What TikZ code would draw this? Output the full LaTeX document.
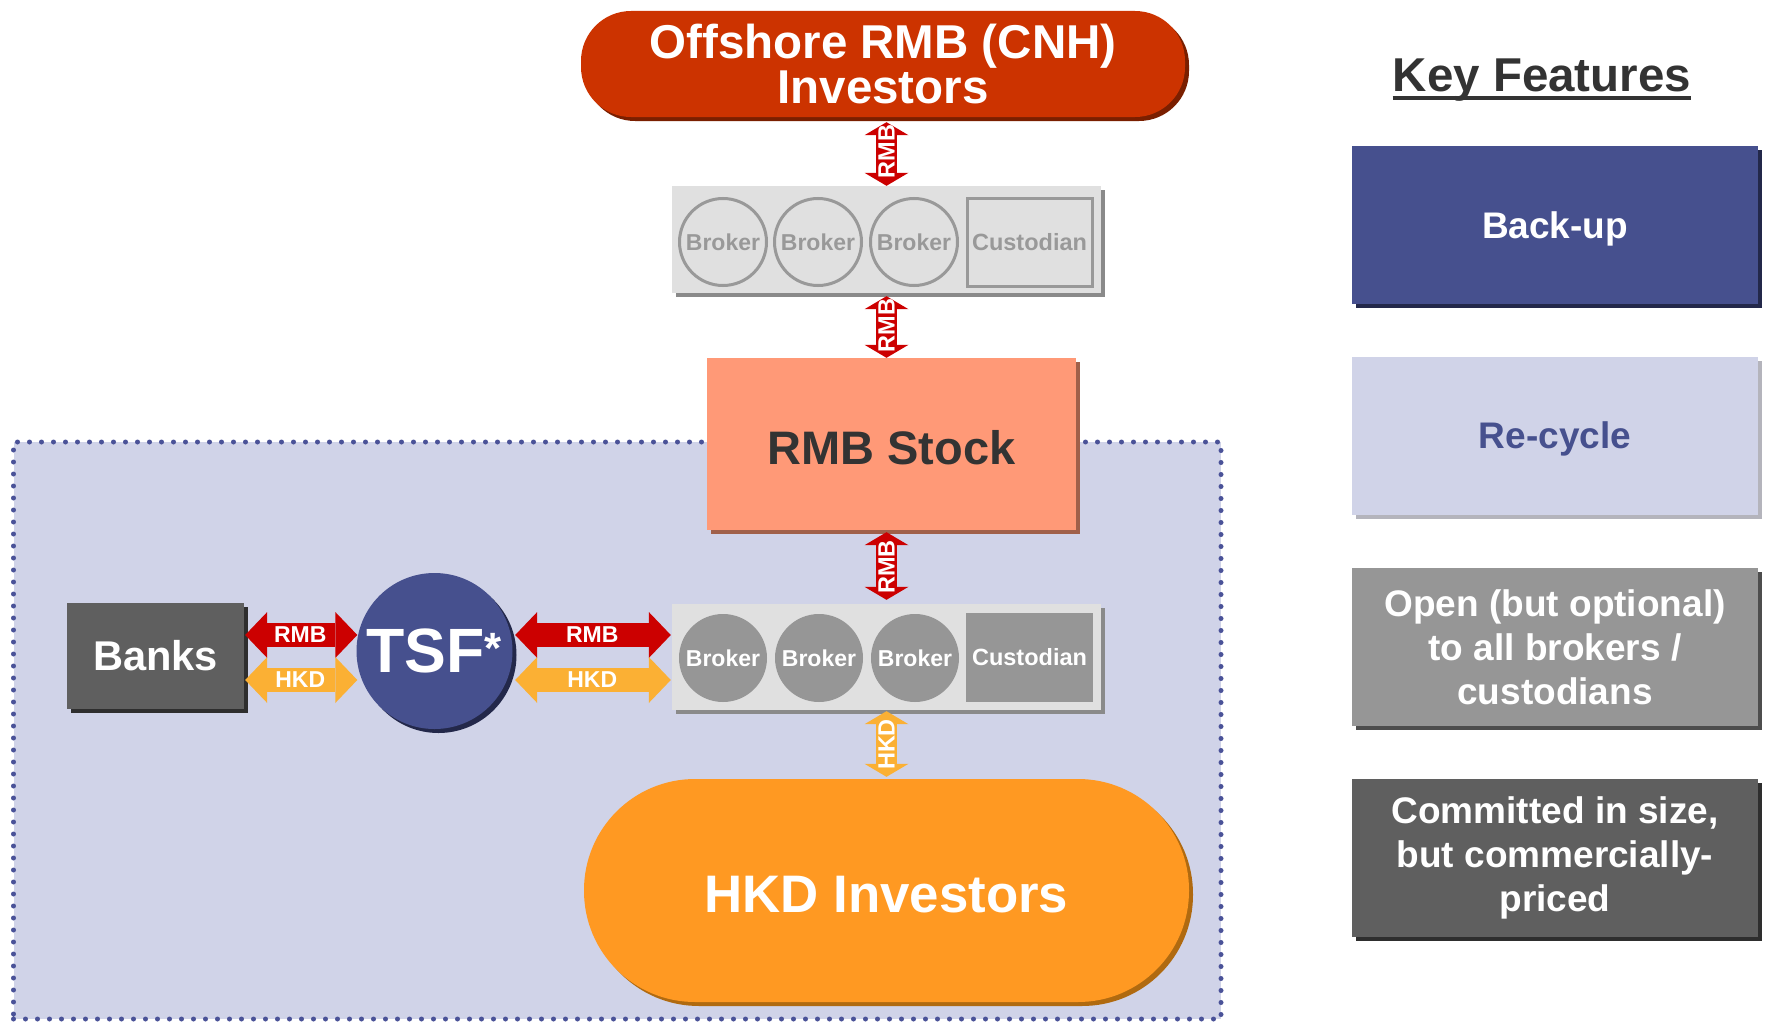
\documentclass[tikz,border=0pt]{standalone}
\usepackage{fontspec}
\setmainfont{Liberation Sans}
\usetikzlibrary{arrows.meta,shadows,calc}
\definecolor{titlered}{HTML}{CC3300}
\definecolor{titleshd}{HTML}{7A1F00}
\definecolor{salmon}{HTML}{FF9977}
\definecolor{salmonshd}{HTML}{A0604A}
\definecolor{hkdorange}{HTML}{FF9922}
\definecolor{hkdshd}{HTML}{B06A10}
\definecolor{zonefill}{HTML}{D0D3E8}
\definecolor{zonedot}{HTML}{4A5298}
\definecolor{navy}{HTML}{46508E}
\definecolor{navyshd}{HTML}{23284A}
\definecolor{boxgray}{HTML}{E0E0E0}
\definecolor{boxgrayshd}{HTML}{8A8A8A}
\definecolor{outgray}{HTML}{999999}
\definecolor{midgray}{HTML}{969696}
\definecolor{midgrayshd}{HTML}{4D4D4D}
\definecolor{darkgray}{HTML}{5F5F5F}
\definecolor{darkgrayshd}{HTML}{2E2E2E}
\definecolor{rmbred}{HTML}{CC0000}
\definecolor{hkdyellow}{HTML}{FBB034}
\definecolor{textdark}{HTML}{333333}
\definecolor{recycleshd}{HTML}{B4B4BC}
\newcommand\fsz[2]{\fontsize{#1pt}{#2pt}\selectfont\bfseries}
\begin{document}
\begin{tikzpicture}[x=1pt,y=-1pt,
  sh/.style={drop shadow={shadow xshift=4pt,shadow yshift=-4pt,opacity=1,fill=#1}},
  box/.style={rectangle,inner sep=0pt,align=center},
  brokerA/.style={circle,inner sep=0pt,minimum size=87pt,draw=outgray,line width=3pt,fill=boxgray,text=outgray,font=\fsz{23}{26}},
  brokerB/.style={circle,inner sep=0pt,minimum size=88pt,fill=midgray,text=white,font=\fsz{23}{26}},
  keybox/.style={box,minimum width=406pt,minimum height=158pt,font=\fsz{37}{44}},
  varrow/.style={draw=#1,line width=21pt,arrows={Triangle[width=44pt,length=13pt,line width=0pt]-Triangle[width=44pt,length=13pt,line width=0pt]}},
  harrow/.style={draw=#1,line width=24pt,arrows={Triangle[width=46pt,length=22pt,line width=0pt]-Triangle[width=46pt,length=22pt,line width=0pt]}},
  arrlab/.style={text=white,font=\fsz{23}{26},inner sep=0pt},
  varrlab/.style={text=white,font=\fsz{23.5}{26},inner sep=0pt,rotate=90}
]
\useasboundingbox (0,0) rectangle (1765,1025);

% shaded zone
\node[box,fill=zonefill,draw=zonedot,line width=5pt,dash pattern=on 0pt off 12pt,line cap=round,
      minimum width=1207.5pt,minimum height=577pt] (zone) at (617.25,730.5) {};

% top investors
\node[box,sh=titleshd,fill=titlered,rounded corners=50pt,minimum width=604pt,minimum height=106pt,
      text=white,font=\fsz{47.5}{45}] (cnh) at (883,64) {Offshore RMB (CNH)\\Investors};

% upper broker strip
\node[box,sh=boxgrayshd,fill=boxgray,minimum width=429pt,minimum height=107pt] (stripA) at (886.5,239.5) {};
\node[brokerA] (a1) at (723,242) {Broker};
\node[brokerA] (a2) at (818,242) {Broker};
\node[brokerA] (a3) at (914,242) {Broker};
\node[box,draw=outgray,line width=3pt,minimum width=125pt,minimum height=88pt,text=outgray,font=\fsz{23.5}{26}] (a4) at (1029.5,242) {Custodian};

% RMB stock
\node[box,sh=salmonshd,fill=salmon,minimum width=369pt,minimum height=172pt,text=textdark,font=\fsz{47}{50},text height=40pt,text depth=0pt] (stock) at (891.5,444) {RMB Stock};

% lower broker strip
\node[box,sh=boxgrayshd,fill=boxgray,minimum width=429pt,minimum height=106pt] (stripB) at (886.5,657) {};
\node[brokerB] (b1) at (723,658) {Broker};
\node[brokerB] (b2) at (819,658) {Broker};
\node[brokerB] (b3) at (915,658) {Broker};
\node[box,fill=midgray,minimum width=127pt,minimum height=89pt,text=white,font=\fsz{23.5}{26}] (b4) at (1029.5,657.5) {Custodian};

% HKD investors
\node[box,sh=hkdshd,fill=hkdorange,rounded corners=111pt,minimum width=605pt,minimum height=223pt,
      text=white,font=\fsz{52.8}{56},text height=44pt,text depth=0pt] (hkd) at (886.5,890.5) {HKD Investors};

% banks and TSF
\node[box,sh=darkgrayshd,fill=darkgray,minimum width=177pt,minimum height=106pt,text=white,font=\fsz{41.6}{44}] (banks) at (155.5,656) {Banks};
\node[circle,sh=navyshd,fill=navy,inner sep=0pt,minimum size=156pt,text=white,font=\fsz{62.6}{64}] (tsf) at (434.5,651) {TSF\textsuperscript{*}};

% rows for horizontal arrows
\coordinate (rowR) at (0,635);
\coordinate (rowH) at (0,680);

% vertical arrows
\draw[varrow=rmbred,shorten <=5pt] (stripA.north |- cnh.south) -- node[varrlab]{RMB} (stripA.north);
\draw[varrow=rmbred,shorten <=3pt] (stripA.south) -- node[varrlab]{RMB} (stripA.south |- stock.north);
\draw[varrow=rmbred,shorten <=2pt,shorten >=4pt] (stripB.north |- stock.south) -- node[varrlab]{RMB} (stripB.north);
\draw[varrow=hkdyellow,shorten <=1pt,shorten >=2pt] (stripB.south) -- node[varrlab]{HKD} (stripB.south |- hkd.north);

% horizontal arrows
\draw[harrow=rmbred,shorten <=1pt,shorten >=-1pt] (banks.east |- rowR) -- node[arrlab]{RMB} (tsf.west |- rowR);
\draw[harrow=hkdyellow,shorten <=1pt,shorten >=-1pt] (banks.east |- rowH) -- node[arrlab]{HKD} (tsf.west |- rowH);
\draw[harrow=rmbred,shorten <=2.5pt,shorten >=1pt] (tsf.east |- rowR) -- node[arrlab]{RMB} (stripB.west |- rowR);
\draw[harrow=hkdyellow,shorten <=2.5pt,shorten >=1pt] (tsf.east |- rowH) -- node[arrlab]{HKD} (stripB.west |- rowH);

% key features
\node[inner sep=0pt,anchor=base,text=textdark,font=\fsz{47.5}{50}] (kf) at (1542,92) {Key Features};
\draw[textdark,line width=4.5pt] ([yshift=-6pt]kf.base west) -- ([yshift=-6pt]kf.base east);

\node[keybox,sh=navyshd,fill=navy,text=white,text depth=0pt] (k1) at (1555,225) {Back-up};
\node[keybox,sh=recycleshd,fill=zonefill,text=navy,text depth=0pt] (k2) at (1555,435.5) {Re-cycle};
\node[keybox,sh=midgrayshd,fill=midgray,text=white] (k3) at (1555,647) {Open (but optional)\\to all brokers /\\custodians};
\node[keybox,sh=darkgrayshd,fill=darkgray,text=white] (k4) at (1555,858) {Committed in size,\\but commercially-\\priced};
\end{tikzpicture}
\end{document}
